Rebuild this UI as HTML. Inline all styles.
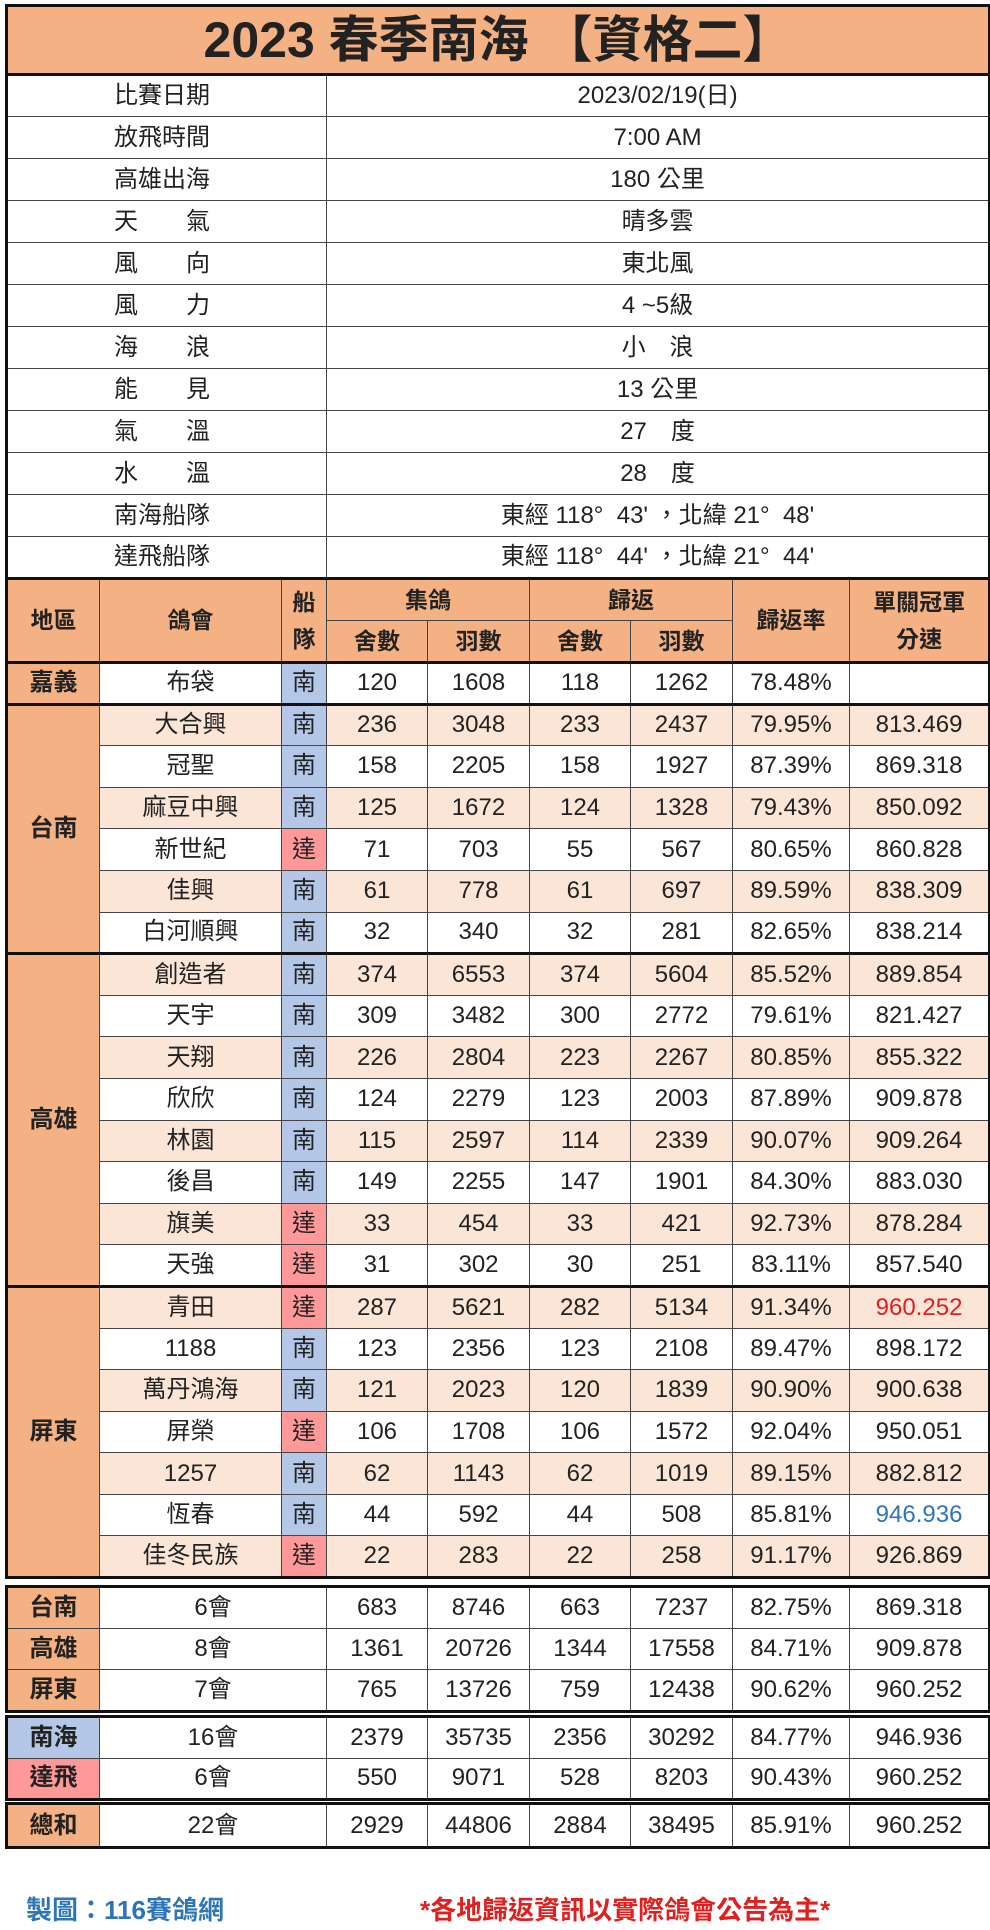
<!DOCTYPE html>
<html><head><meta charset="utf-8">
<style>
*{margin:0;padding:0;box-sizing:border-box}
body{width:990px;height:1930px;background:#fff;position:relative;overflow:hidden;font-family:"Liberation Sans","Noto Sans CJK TC",sans-serif;color:#222}
table{position:absolute;left:5px;width:983px;border-collapse:collapse;table-layout:fixed;border:3px solid #111}
td{border:1px solid #444;text-align:center;vertical-align:middle;font-size:24px;white-space:nowrap;overflow:hidden;line-height:1}
.reg{font-weight:bold;background:#F4B183}
.o{background:#F4B183}.p{background:#FBE5D6}.b{background:#B4C7E7}.r{background:#FF9999}
.h td{font-weight:bold;font-size:23px}
.lbl{text-align:left;padding-left:106px}
.gs td{border-top:3px solid #111}
.red{color:#E0201E}.blu{color:#2E75B6}
</style></head><body>
<table style="top:4px">
<colgroup><col style="width:93px"><col style="width:182px"><col style="width:45px"><col style="width:101px"><col style="width:102px"><col style="width:101px"><col style="width:102px"><col style="width:117px"><col style="width:140px"></colgroup>
<tr style="height:69px"><td colspan="9" class="o" style="font-size:50px;font-weight:bold;border-bottom:3px solid #111">2023 春季南海 【資格二】</td></tr>
<tr style="height:42px"><td colspan="3" class="lbl">比賽日期</td><td colspan="6">2023/02/19(日)</td></tr>
<tr style="height:42px"><td colspan="3" class="lbl">放飛時間</td><td colspan="6">7:00 AM</td></tr>
<tr style="height:42px"><td colspan="3" class="lbl">高雄出海</td><td colspan="6">180 公里</td></tr>
<tr style="height:42px"><td colspan="3" class="lbl">天　　氣</td><td colspan="6">晴多雲</td></tr>
<tr style="height:42px"><td colspan="3" class="lbl">風　　向</td><td colspan="6">東北風</td></tr>
<tr style="height:42px"><td colspan="3" class="lbl">風　　力</td><td colspan="6">4 ~5級</td></tr>
<tr style="height:42px"><td colspan="3" class="lbl">海　　浪</td><td colspan="6">小　浪</td></tr>
<tr style="height:42px"><td colspan="3" class="lbl">能　　見</td><td colspan="6">13 公里</td></tr>
<tr style="height:42px"><td colspan="3" class="lbl">氣　　溫</td><td colspan="6">27　度</td></tr>
<tr style="height:42px"><td colspan="3" class="lbl">水　　溫</td><td colspan="6">28　度</td></tr>
<tr style="height:42px"><td colspan="3" class="lbl">南海船隊</td><td colspan="6">東經 118°&nbsp;&nbsp;43' ，北緯 21°&nbsp;&nbsp;48'</td></tr>
<tr style="height:42px"><td colspan="3" class="lbl">達飛船隊</td><td colspan="6">東經 118°&nbsp;&nbsp;44' ，北緯 21°&nbsp;&nbsp;44'</td></tr>
<tr class="h o gs" style="height:42px"><td rowspan="2">地區</td><td rowspan="2">鴿會</td><td rowspan="2" style="line-height:1.6">船<br>隊</td><td colspan="2">集鴿</td><td colspan="2">歸返</td><td rowspan="2">歸返率</td><td rowspan="2" style="line-height:1.6">單關冠軍<br>分速</td></tr>
<tr class="h o" style="height:42px"><td>舍數</td><td>羽數</td><td>舍數</td><td>羽數</td></tr>
<tr class="gs" style="height:41.6px"><td class="reg">嘉義</td><td>布袋</td><td class="b">南</td><td>120</td><td>1608</td><td>118</td><td>1262</td><td>78.48%</td><td></td></tr>
<tr class="gs p" style="height:41.6px"><td class="reg" rowspan="6">台南</td><td>大合興</td><td class="b">南</td><td>236</td><td>3048</td><td>233</td><td>2437</td><td>79.95%</td><td>813.469</td></tr>
<tr style="height:41.6px"><td>冠聖</td><td class="b">南</td><td>158</td><td>2205</td><td>158</td><td>1927</td><td>87.39%</td><td>869.318</td></tr>
<tr class="p" style="height:41.6px"><td>麻豆中興</td><td class="b">南</td><td>125</td><td>1672</td><td>124</td><td>1328</td><td>79.43%</td><td>850.092</td></tr>
<tr style="height:41.6px"><td>新世紀</td><td class="r">達</td><td>71</td><td>703</td><td>55</td><td>567</td><td>80.65%</td><td>860.828</td></tr>
<tr class="p" style="height:41.6px"><td>佳興</td><td class="b">南</td><td>61</td><td>778</td><td>61</td><td>697</td><td>89.59%</td><td>838.309</td></tr>
<tr style="height:41.6px"><td>白河順興</td><td class="b">南</td><td>32</td><td>340</td><td>32</td><td>281</td><td>82.65%</td><td>838.214</td></tr>
<tr class="gs p" style="height:41.6px"><td class="reg" rowspan="8">高雄</td><td>創造者</td><td class="b">南</td><td>374</td><td>6553</td><td>374</td><td>5604</td><td>85.52%</td><td>889.854</td></tr>
<tr style="height:41.6px"><td>天宇</td><td class="b">南</td><td>309</td><td>3482</td><td>300</td><td>2772</td><td>79.61%</td><td>821.427</td></tr>
<tr class="p" style="height:41.6px"><td>天翔</td><td class="b">南</td><td>226</td><td>2804</td><td>223</td><td>2267</td><td>80.85%</td><td>855.322</td></tr>
<tr style="height:41.6px"><td>欣欣</td><td class="b">南</td><td>124</td><td>2279</td><td>123</td><td>2003</td><td>87.89%</td><td>909.878</td></tr>
<tr class="p" style="height:41.6px"><td>林園</td><td class="b">南</td><td>115</td><td>2597</td><td>114</td><td>2339</td><td>90.07%</td><td>909.264</td></tr>
<tr style="height:41.6px"><td>後昌</td><td class="b">南</td><td>149</td><td>2255</td><td>147</td><td>1901</td><td>84.30%</td><td>883.030</td></tr>
<tr class="p" style="height:41.6px"><td>旗美</td><td class="r">達</td><td>33</td><td>454</td><td>33</td><td>421</td><td>92.73%</td><td>878.284</td></tr>
<tr style="height:41.6px"><td>天強</td><td class="r">達</td><td>31</td><td>302</td><td>30</td><td>251</td><td>83.11%</td><td>857.540</td></tr>
<tr class="gs p" style="height:41.6px"><td class="reg" rowspan="7">屏東</td><td>青田</td><td class="r">達</td><td>287</td><td>5621</td><td>282</td><td>5134</td><td>91.34%</td><td class="red">960.252</td></tr>
<tr style="height:41.6px"><td>1188</td><td class="b">南</td><td>123</td><td>2356</td><td>123</td><td>2108</td><td>89.47%</td><td>898.172</td></tr>
<tr class="p" style="height:41.6px"><td>萬丹鴻海</td><td class="b">南</td><td>121</td><td>2023</td><td>120</td><td>1839</td><td>90.90%</td><td>900.638</td></tr>
<tr style="height:41.6px"><td>屏榮</td><td class="r">達</td><td>106</td><td>1708</td><td>106</td><td>1572</td><td>92.04%</td><td>950.051</td></tr>
<tr class="p" style="height:41.6px"><td>1257</td><td class="b">南</td><td>62</td><td>1143</td><td>62</td><td>1019</td><td>89.15%</td><td>882.812</td></tr>
<tr style="height:41.6px"><td>恆春</td><td class="b">南</td><td>44</td><td>592</td><td>44</td><td>508</td><td>85.81%</td><td class="blu">946.936</td></tr>
<tr class="p" style="height:41.6px"><td>佳冬民族</td><td class="r">達</td><td>22</td><td>283</td><td>22</td><td>258</td><td>91.17%</td><td>926.869</td></tr>
</table>

<table style="top:1585px">
<colgroup><col style="width:93px"><col style="width:227px"><col style="width:101px"><col style="width:102px"><col style="width:101px"><col style="width:102px"><col style="width:117px"><col style="width:140px"></colgroup>
<tr style="height:41.5px"><td class="reg">台南</td><td>6會</td><td>683</td><td>8746</td><td>663</td><td>7237</td><td>82.75%</td><td>869.318</td></tr>
<tr style="height:41.5px"><td class="reg">高雄</td><td>8會</td><td>1361</td><td>20726</td><td>1344</td><td>17558</td><td>84.71%</td><td>909.878</td></tr>
<tr style="height:41.5px"><td class="reg">屏東</td><td>7會</td><td>765</td><td>13726</td><td>759</td><td>12438</td><td>90.62%</td><td>960.252</td></tr>
</table>

<table style="top:1715px">
<colgroup><col style="width:93px"><col style="width:227px"><col style="width:101px"><col style="width:102px"><col style="width:101px"><col style="width:102px"><col style="width:117px"><col style="width:140px"></colgroup>
<tr style="height:41.5px"><td class="reg b">南海</td><td>16會</td><td>2379</td><td>35735</td><td>2356</td><td>30292</td><td>84.77%</td><td>946.936</td></tr>
<tr style="height:41.5px"><td class="reg r">達飛</td><td>6會</td><td>550</td><td>9071</td><td>528</td><td>8203</td><td>90.43%</td><td>960.252</td></tr>
</table>

<table style="top:1802px">
<colgroup><col style="width:93px"><col style="width:227px"><col style="width:101px"><col style="width:102px"><col style="width:101px"><col style="width:102px"><col style="width:117px"><col style="width:140px"></colgroup>
<tr style="height:44px"><td class="reg">總和</td><td>22會</td><td>2929</td><td>44806</td><td>2884</td><td>38495</td><td>85.91%</td><td>960.252</td></tr>
</table>

<div style="position:absolute;left:26px;top:1890px;font-size:26px;font-weight:bold;color:#2E75B6">製圖：116賽鴿網</div>
<div style="position:absolute;left:420px;top:1890px;font-size:26px;font-weight:bold;color:#E0201E">*各地歸返資訊以實際鴿會公告為主*</div>
</body></html>
